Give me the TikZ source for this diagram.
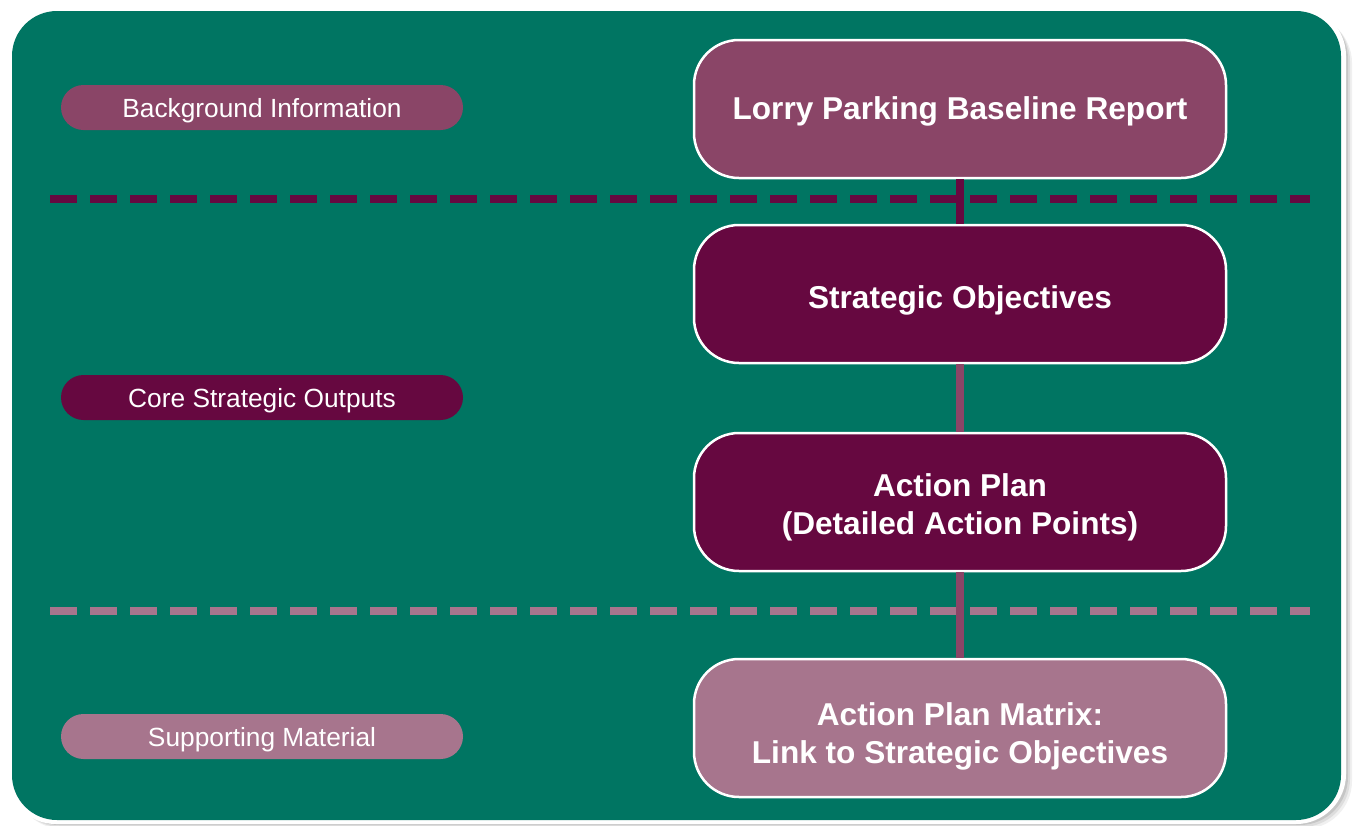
\documentclass[tikz,border=0pt]{standalone}
\usepackage{fontspec}
\setmainfont{Liberation Sans}
\begin{document}
\definecolor{panelgreen}{HTML}{007562}
\definecolor{plumdark}{HTML}{660840}
\definecolor{plummid}{HTML}{8A4567}
\definecolor{plumlight}{HTML}{A7758D}
\begin{tikzpicture}[x=1pt,y=-1pt,
  stagebox/.style={draw=white,line width=2.5pt,rounded corners=45pt,
    minimum width=532pt,minimum height=138pt,inner sep=0pt},
  stagetext/.style={align=center,text=white,inner sep=0pt,
    font=\fontsize{31.6}{38}\selectfont\bfseries},
  tagpill/.style={rounded corners=22.5pt,minimum width=402pt,minimum height=45pt,
    inner sep=0pt},
  tagtext/.style={text=white,inner sep=0pt,font=\fontsize{26.3}{30}\selectfont},
  divider/.style={line width=8pt,dash pattern=on 27pt off 13pt},
  link/.style={line width=8pt}]
\useasboundingbox (0,0) rectangle (1355,825);
% soft drop shadow behind the panel
\foreach \o/\a in {7/0.06,5/0.08,3/0.1}
  \fill[black,opacity=\a,rounded corners=48pt] (8+\o,8+\o) rectangle (1345+\o,822+\o);
% main panel with white rim
\fill[white,rounded corners=50pt] (6,6) rectangle (1346,824);
\fill[panelgreen,rounded corners=45pt] (12,11) rectangle (1341,820);
% stage boxes
\node[stagebox,fill=plummid] (base) at (960,109) {};
\node[stagebox,fill=plumdark] (strat) at (960,294) {};
\node[stagebox,fill=plumdark] (plan) at (960,502) {};
\node[stagebox,fill=plumlight] (matrix) at (960,728) {};
\node[stagetext] (baseT) at ([yshift=-2pt]base.center) {Lorry Parking Baseline Report};
\node[stagetext] (stratT) at ([yshift=-6pt]strat.center) {Strategic Objectives};
\node[stagetext] (planT) at ([yshift=-5pt]plan.center) {Action Plan\\(Detailed Action Points)};
\node[stagetext] (matrixT) at ([yshift=-8pt]matrix.center) {Action Plan Matrix:\\Link to Strategic Objectives};
% section dividers
\coordinate (d1l) at (50,199); \coordinate (d1r) at (1310,199);
\coordinate (d2l) at (50,611); \coordinate (d2r) at (1310,611);
\draw[divider,plumdark] (d1l) -- (d1r);
\draw[divider,plumlight] (d2l) -- (d2r);
% connectors between stages
\draw[link,plumdark] (base.south) -- (strat.north);
\draw[link,plummid] (strat.south) -- (plan.north);
\draw[link,plummid] (plan.south) -- (matrix.north);
% section tags
\node[tagpill,fill=plummid] (tbg) at (262,107.5) {};
\node[tagpill,fill=plumdark] (tcore) at (262,397.5) {};
\node[tagpill,fill=plumlight] (tsup) at (262,736.5) {};
\node[tagtext] (tbgT) at ([yshift=-3pt]tbg.center) {Background Information};
\node[tagtext] (tcoreT) at ([yshift=-3pt]tcore.center) {Core Strategic Outputs};
\node[tagtext] (tsupT) at ([yshift=-3pt]tsup.center) {Supporting Material};
\end{tikzpicture}
\end{document}
